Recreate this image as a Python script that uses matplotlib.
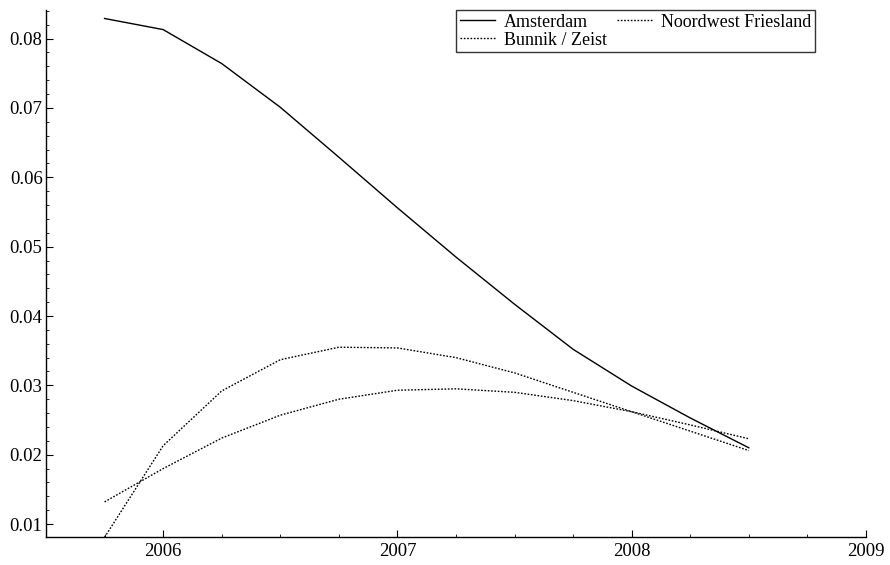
import numpy as np
from matplotlib import pyplot as plt
from matplotlib.ticker import MultipleLocator

plt.rcParams['font.family'] = ['Liberation Serif', 'DejaVu Serif']

# quarterly points
t = [2005.75, 2006.0, 2006.25, 2006.5, 2006.75, 2007.0,
     2007.25, 2007.5, 2007.75, 2008.0, 2008.25, 2008.5]

amsterdam = [0.0829, 0.0813, 0.0764, 0.0701, 0.0629, 0.0556,
             0.0485, 0.0417, 0.0352, 0.0299, 0.0253, 0.0210]
bunnik_zeist = [0.0132, 0.0180, 0.0224, 0.0257, 0.0280, 0.0293,
                0.0295, 0.0290, 0.0278, 0.0262, 0.0243, 0.0223]
noordwest = [0.0081, 0.0213, 0.0292, 0.0337, 0.0355, 0.0354,
             0.0340, 0.0318, 0.0290, 0.0262, 0.0234, 0.0206]

fig = plt.figure(figsize=(8.9, 5.65), dpi=100)
ax = fig.add_axes([0.0517, 0.0496, 0.9213, 0.9324])

dots = (0, (1.2, 1.2))
ax.plot(t, amsterdam, color='black', lw=1.0, label='Amsterdam')
ax.plot(t, bunnik_zeist, color='black', lw=1.0, ls=dots, label='Bunnik / Zeist')
ax.plot(t, noordwest, color='black', lw=1.0, ls=dots, label='Noordwest Friesland')

ax.set_xlim(2005.5, 2009.0)
ax.set_ylim(0.00814, 0.0841)
ax.xaxis.set_major_locator(MultipleLocator(1))
ax.xaxis.set_minor_locator(MultipleLocator(0.25))
ax.yaxis.set_major_locator(MultipleLocator(0.01))
ax.yaxis.set_minor_locator(MultipleLocator(0.002))
ax.xaxis.set_major_formatter(plt.FuncFormatter(lambda v, p: f'{v:.0f}'))
ax.yaxis.set_major_formatter(plt.FuncFormatter(lambda v, p: f'{v:.2f}'))

for s in ['top', 'right']:
    ax.spines[s].set_visible(False)
for s in ['left', 'bottom']:
    ax.spines[s].set_linewidth(1.0)
ax.tick_params(which='both', direction='in', labelsize=13.5)
ax.tick_params(axis='x', pad=4)
ax.tick_params(axis='y', pad=2.5)
ax.tick_params(which='major', length=5)
ax.tick_params(which='minor', length=2.5)

leg = ax.legend(ncol=2, loc='upper left', bbox_to_anchor=(0.5, 1.0),
                fontsize=13, frameon=True, fancybox=False, borderpad=0.2,
                labelspacing=0.05, handlelength=1.95, handletextpad=0.5,
                columnspacing=0.55, borderaxespad=0.0)
leg.get_frame().set_edgecolor('black')
leg.get_frame().set_linewidth(1.0)

plt.savefig('out.png', dpi=100)
